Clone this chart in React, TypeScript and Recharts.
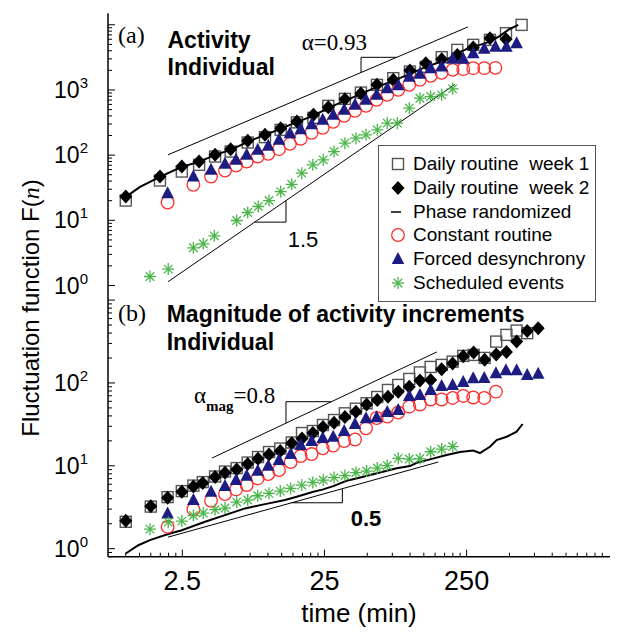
import React from 'react';
import { ComposedChart, Scatter, XAxis, YAxis, ReferenceLine, Legend } from 'recharts';

const SANS = "'Liberation Sans', Arial, Helvetica, sans-serif";
const SERIF = "'Liberation Serif', 'Times New Roman', Times, serif";

// ---------- axes ----------
const X_DOMAIN: [number, number] = [0.75, 2550];
const TOP_Y_DOMAIN: [number, number] = [1, 15000];
const BOT_Y_DOMAIN: [number, number] = [0.8, 1500];

const xTicks = [1, 1.25, 1.5, 1.75, 2, 2.25, 2.5, 5, 7.5, 10, 12.5, 15, 17.5, 20, 22.5, 25, 50, 75, 100, 125, 150, 175, 200, 225, 250, 500, 750, 1000, 1250, 1500, 1750, 2000, 2250];
const xMajor = [2.5, 25, 250, 2500];
const xLabels = [2.5, 25, 250];

const topYTicks = [1, 2, 3, 4, 5, 6, 7, 8, 9, 10, 20, 30, 40, 50, 60, 70, 80, 90, 100, 200, 300, 400, 500, 600, 700, 800, 900, 1000, 2000, 3000, 4000, 5000, 6000, 7000, 8000, 9000, 10000];
const botYTicks = [0.8, 0.9, 1, 2, 3, 4, 5, 6, 7, 8, 9, 10, 20, 30, 40, 50, 60, 70, 80, 90, 100, 200, 300, 400, 500, 600, 700, 800, 900, 1000];
const yMajor = [1, 10, 100, 1000, 10000];
const topYLabels = [1, 10, 100, 1000];
const botYLabels = [1, 10, 100];

// ---------- panel (a): activity ----------
const topXDaily = [1, 1.74, 2.48, 3.28, 4.25, 5.47, 7.21, 9.54, 12.3, 16, 20.9, 26.6, 34.8, 45.1, 58.5, 76.2, 99.8, 129, 167, 215, 278, 365, 473, 609];
const topWeek1 = [20.1, 40.8, 56.0, 71.0, 95.2, 113.5, 156, 188.8, 244, 318, 373, 570, 730, 912, 1197, 1517, 1915, 2261, 3186, 4121, 4920, 5866, 7430, 9960];
const topWeek2 = [23.2, 47.0, 66.9, 79.8, 101, 123.6, 165.7, 204.9, 259.5, 327.5, 415, 545, 722, 880, 1197, 1429, 1985, 2577, 2966, 3453, 4500, 6230, 6013];

const topXFine = [1.97, 2.99, 3.98, 4.99, 5.97, 7.09, 8.48, 10.06, 11.97, 14.3, 17.0, 20.3, 24.3, 28.8, 34.4, 41.0, 49.0, 58.2, 69.1, 82.6, 98.7, 117.3, 139.6, 166.8, 199.3, 236.6, 278.2, 332.5, 398.6, 476.3, 561.9];
const topForced = [26.1, 47.0, 59.5, 73.6, 84.7, 101, 120.6, 138.9, 171.7, 217.4, 250.5, 296.8, 347.7, 415, 495.4, 590.5, 704.7, 840.8, 1066, 1177, 1588, 1766, 2160, 2285, 2999, 2999, 3667, 4270, 4584, 4584, 5223];
const topConstant = [18.75, 35.0, 47.0, 58.0, 69.3, 79.8, 95.2, 104.7, 123.6, 149, 177.8, 219.8, 262.3, 324.2, 400.8, 478, 570, 704.7, 840.8, 1004, 1197, 1429, 1645, 1829, 2033, 2084, 2160, 2160, 2183];

const topXSched = [1.48, 1.99, 2.99, 3.51, 4.20, 6.03, 7.21, 8.56, 10.18, 12.3, 14.7, 17.3, 20.7, 24.5, 29.2, 34.8, 41.6, 49.0, 58.8, 69.1, 81.3, 98.7, 117.3, 139.6, 166.8, 199.3];
const topSched = [1.374, 1.784, 3.79, 4.36, 5.78, 9.93, 13.17, 16.29, 20.1, 27.6, 35.7, 52.9, 71.0, 84.7, 113.5, 152.8, 182.3, 204.9, 244.3, 309.7, 309.7, 526, 748, 792, 840.8, 1040];

const topXPhase = [1.0, 1.26, 1.74, 2.48, 3.28, 4.25, 5.47, 7.21, 9.54, 12.3, 16.0, 20.9, 26.6, 34.8, 45.1, 58.5, 76.2, 99.8, 129, 167, 191, 215, 243, 271, 310, 365, 429, 490, 577];
const topPhase = [22.9, 32.6, 46.5, 66.2, 78.9, 101, 120.6, 160, 204.9, 253, 324, 400.8, 531, 680, 871, 1116, 1379, 1766, 2261, 2727, 3106, 3667, 4121, 4633, 4920, 5524, 6758, 8350, 9960];

// ---------- panel (b): magnitude of increments ----------
const botXDaily = [1.0, 1.5, 1.97, 2.48, 2.99, 3.48, 4.25, 4.99, 6.03, 7.21, 8.52, 10.18, 12.22, 14.7, 17.37, 20.7, 24.4, 29.2, 34.8, 41.6, 49.5, 58.8, 69.9, 82.6, 98.7, 117.3, 139.6, 166.8, 199.3, 236.6, 280, 334.6, 403.7, 476.3, 561.9, 667, 797];
const botWeek1 = [2.11, 3.22, 4.19, 4.95, 5.77, 6.36, 7.42, 8.52, 9.39, 10.95, 12.76, 14.66, 16.16, 19.1, 24.87, 26.3, 31.1, 35.7, 43.0, 48.9, 56.9, 67.7, 82.3, 94.6, 111.8, 134, 156.1, 165.1, 180.9, 212, 218, 200.5, 315.6, 380.2, 428.6, 398.7];
const botWeek2 = [2.17, 3.26, 4.13, 4.86, 5.61, 6.19, 7.31, 8.24, 9.01, 10.5, 12.17, 13.68, 15.08, 18.67, 21.35, 24.87, 29.4, 33.1, 38.8, 45.0, 55.0, 62.3, 68.3, 78.5, 90.2, 107.2, 108.7, 146.4, 172, 210.2, 232.3, 191.2, 221, 237, 315.6, 425, 458];

const botXFine = [1.97, 2.99, 3.98, 4.99, 5.97, 7.09, 8.48, 10.06, 11.97, 14.46, 17.0, 20.3, 24.3, 28.8, 34.4, 41.0, 49.0, 58.2, 69.1, 82.6, 98.7, 117.3, 139.6, 166.8, 199.3, 236.6, 278.2, 332.5, 401.9, 472.5, 561.9, 667, 797];
const botForced = [2.66, 3.86, 4.86, 5.69, 6.73, 7.58, 8.71, 10.01, 11.74, 13.87, 17.81, 19.91, 21.64, 22.44, 26.3, 31.96, 37.45, 38.5, 44.6, 47.2, 69.7, 71.6, 82.3, 92.0, 94.6, 102.8, 114, 114.9, 131, 142.4, 142.4, 125, 129.5];
const botConstant = [1.83, 2.98, 3.78, 4.56, 5.19, 5.85, 7.05, 7.95, 8.89, 11.1, 13.12, 13.87, 16.25, 17.57, 19.91, 20.76, 28.35, 37.76, 39.38, 44.0, 51.7, 55.0, 63.2, 63.2, 65.9, 69.7, 66.8, 65.9, 78.5];

const botXSched = [1.48, 1.99, 2.48, 2.99, 3.51, 4.25, 4.99, 6.03, 7.21, 8.48, 10.18, 12.22, 14.46, 17.3, 20.7, 24.5, 29.2, 34.8, 41.6, 49.5, 58.8, 69.1, 82.6, 98.7, 117.3, 139.6, 166.8, 199.3];
const botSched = [1.72, 2.09, 2.15, 2.51, 2.69, 2.96, 3.09, 3.65, 3.86, 4.35, 4.65, 4.95, 5.34, 5.85, 6.31, 6.73, 7.21, 7.62, 8.29, 8.64, 9.39, 10.07, 12.3, 12.07, 12.24, 14.79, 15.94, 17.08];

const botXPhase = [1.0, 1.226, 1.48, 1.99, 2.48, 3.61, 4.99, 6.9, 9.54, 13.19, 15.94, 20.9, 24.5, 28.8, 35.8, 46.9, 61.4, 80.5, 99.8, 111.3, 138, 180.8, 224.4, 278.2, 310, 364.6, 406.4, 477.8, 561.9, 619];
const botPhase = [0.875, 1.1, 1.27, 1.5, 1.67, 2.11, 2.54, 3.06, 3.45, 3.86, 4.23, 4.86, 5.19, 5.69, 6.6, 7.37, 8.29, 9.32, 9.93, 10.89, 11.96, 13.49, 14.66, 15.29, 14.26, 16.99, 20.47, 22.44, 25.79, 31.96];

// ---------- slope guide lines (data coordinates) ----------
const topAlphaLine = [{ x: 1.98, y: 101 }, { x: 255, y: 9260 }];
const topAlphaBracketH = [{ x: 45.2, y: 3168 }, { x: 80.5, y: 3168 }];
const topAlphaBracketV = [{ x: 45.2, y: 3168 }, { x: 45.2, y: 1852 }];
const topSlope15Line = [{ x: 1.98, y: 1.14 }, { x: 206.6, y: 1214 }];
const topSlope15BracketH = [{ x: 8.07, y: 9.38 }, { x: 13.4, y: 9.38 }];
const topSlope15BracketV = [{ x: 13.4, y: 9.38 }, { x: 13.4, y: 20.1 }];
const botMagLine = [{ x: 4.045, y: 12.41 }, { x: 154.6, y: 237 }];
const botMagBracketH = [{ x: 13.4, y: 59.4 }, { x: 27.95, y: 59.4 }];
const botMagBracketV = [{ x: 13.4, y: 59.4 }, { x: 13.4, y: 32.7 }];
const botHalfLine = [{ x: 1.98, y: 1.377 }, { x: 157.8, y: 11.1 }];
const botHalfBracketH = [{ x: 14.7, y: 3.58 }, { x: 33.4, y: 3.58 }];
const botHalfBracketV = [{ x: 33.4, y: 3.58 }, { x: 33.4, y: 5.3 }];

const zip = (xs: number[], ys: number[]) => ys.map((y, i) => ({ x: xs[i], y }));

// ---------- colours ----------
const C_SQUARE = '#555555';
const C_DIAMOND = '#000000';
const C_CIRCLE = '#ff2b2b';
const C_TRI = '#1c1c82';
const C_STAR = '#48b548';

// ---------- marker shapes ----------
const SquareMark = ({ cx, cy }: any) => (
  <rect x={cx - 5.5} y={cy - 5.5} width={11} height={11} fill="none" stroke={C_SQUARE} strokeWidth={1.4} />
);
const DiamondMark = ({ cx, cy }: any) => (
  <polygon points={`${cx},${cy - 7} ${cx + 6.5},${cy} ${cx},${cy + 7} ${cx - 6.5},${cy}`} fill={C_DIAMOND} />
);
const CircleMark = ({ cx, cy }: any) => (
  <circle cx={cx} cy={cy} r={6.3} fill="none" stroke={C_CIRCLE} strokeWidth={1.3} />
);
const TriMark = ({ cx, cy }: any) => (
  <polygon points={`${cx},${cy - 7} ${cx + 6.3},${cy + 5} ${cx - 6.3},${cy + 5}`} fill={C_TRI} />
);
const StarMark = ({ cx, cy }: any) => {
  const r = 6;
  const d = r * 0.7071;
  return (
    <g stroke={C_STAR} strokeWidth={1.3}>
      <line x1={cx - r} y1={cy} x2={cx + r} y2={cy} />
      <line x1={cx} y1={cy - r} x2={cx} y2={cy + r} />
      <line x1={cx - d} y1={cy - d} x2={cx + d} y2={cy + d} />
      <line x1={cx - d} y1={cy + d} x2={cx + d} y2={cy - d} />
    </g>
  );
};
const NoMark = () => <g />;

// ---------- ticks ----------
const near = (v: number, arr: number[]) => arr.some((a) => Math.abs(v / a - 1) < 1e-6);

const makeTick = (side: 'left' | 'right' | 'top' | 'bottom', majors: number[], labels: number[], kind: 'pow' | 'plain' | null) =>
  (props: any) => {
    const { x, y, payload } = props;
    const v = payload.value;
    const major = near(v, majors);
    const len = major ? 7 : 4;
    let line: any;
    if (side === 'left') line = <line x1={x} y1={y} x2={x + len} y2={y} stroke="#000" strokeWidth={1} />;
    else if (side === 'right') line = <line x1={x} y1={y} x2={x - len} y2={y} stroke="#000" strokeWidth={1} />;
    else if (side === 'top') line = <line x1={x} y1={y} x2={x} y2={y + len} stroke="#000" strokeWidth={1} />;
    else line = <line x1={x} y1={y} x2={x} y2={y - len} stroke="#000" strokeWidth={1} />;
    let label: any = null;
    if (kind && near(v, labels)) {
      if (kind === 'pow') {
        const e = Math.round(Math.log10(v));
        label = (
          <text x={x - 20} y={y + 8} textAnchor="end" fontFamily={SANS} fontSize={23} fill="#000">
            10<tspan fontSize={15} dy={-10}>{e}</tspan>
          </text>
        );
      } else {
        label = (
          <text x={x} y={y + 33} textAnchor="middle" fontFamily={SANS} fontSize={27} fill="#000">{v}</text>
        );
      }
    }
    return <g>{line}{label}</g>;
  };

const AXIS_LINE = { stroke: '#000', strokeWidth: 1.5 };

// ---------- legend ----------
const legendItems = [
  { label: 'Daily routine  week 1', mark: 'square' },
  { label: 'Daily routine  week 2', mark: 'diamond' },
  { label: 'Phase randomized', mark: 'line' },
  { label: 'Constant routine', mark: 'circle' },
  { label: 'Forced desynchrony', mark: 'tri' },
  { label: 'Scheduled events', mark: 'star' },
];

const LegendMark = ({ mark }: { mark: string }) => {
  const cx = 19;
  const cy = 12;
  if (mark === 'square') return <SquareMark cx={cx} cy={cy} />;
  if (mark === 'diamond') return <DiamondMark cx={cx} cy={cy} />;
  if (mark === 'circle') return <CircleMark cx={cx} cy={cy} />;
  if (mark === 'tri') return <TriMark cx={cx} cy={cy} />;
  if (mark === 'star') return <StarMark cx={cx} cy={cy} />;
  return <line x1={12} y1={cy} x2={22} y2={cy} stroke="#000" strokeWidth={1.5} />;
};

const LegendBox = () => (
  <div style={{ width: 218, height: 157, border: '1px solid #555', background: '#fff', boxSizing: 'border-box', position: 'relative' }}>
    {legendItems.map((it, i) => (
      <div key={i} style={{ position: 'absolute', left: 0, top: 6 + i * 23.8, height: 24, display: 'flex', alignItems: 'center' }}>
        <svg width={34} height={24} style={{ display: 'block' }}>
          <LegendMark mark={it.mark} />
        </svg>
        <span style={{ fontFamily: SANS, fontSize: 19, whiteSpace: 'pre', color: '#000', lineHeight: '24px' }}>{it.label}</span>
      </div>
    ))}
  </div>
);

const seg = (pts: { x: number; y: number }[], key: string) => (
  <ReferenceLine key={key} xAxisId="b" yAxisId="l" segment={pts as any} stroke="#000" strokeWidth={1} ifOverflow="visible" />
);

export default function App() {
  return (
    <div style={{ position: 'absolute', left: 0, top: 0, width: 621, height: 637, background: '#fff' }}>
      {/* Panel (a) */}
      <div style={{ position: 'absolute', left: 0, top: 0 }}>
        <ComposedChart width={621} height={305} margin={{ top: 13.3, right: 11, bottom: 19.5, left: 0 }}>
          <XAxis xAxisId="b" dataKey="x" type="number" scale="log" domain={X_DOMAIN} allowDataOverflow ticks={xTicks} interval={0}
            orientation="bottom" height={0} tickSize={0} tickMargin={0} tickLine={false} axisLine={AXIS_LINE}
            tick={makeTick('bottom', xMajor, [], null)} />
          <XAxis xAxisId="t" dataKey="x" type="number" scale="log" domain={X_DOMAIN} allowDataOverflow ticks={xTicks} interval={0}
            orientation="top" height={0} tickSize={0} tickMargin={0} tickLine={false} axisLine={AXIS_LINE}
            tick={makeTick('top', xMajor, [], null)} />
          <YAxis yAxisId="l" dataKey="y" type="number" scale="log" domain={TOP_Y_DOMAIN} allowDataOverflow ticks={topYTicks} interval={0}
            orientation="left" width={108} tickSize={0} tickMargin={0} tickLine={false} axisLine={AXIS_LINE}
            tick={makeTick('left', yMajor, topYLabels, 'pow')} />
          <YAxis yAxisId="r" dataKey="y" type="number" scale="log" domain={TOP_Y_DOMAIN} allowDataOverflow ticks={topYTicks} interval={0}
            orientation="right" width={0} tickSize={0} tickMargin={0} tickLine={false} axisLine={AXIS_LINE}
            tick={makeTick('right', yMajor, [], null)} />

          {seg(topAlphaLine, 'a1')}
          {seg(topAlphaBracketH, 'a2')}
          {seg(topAlphaBracketV, 'a3')}
          {seg(topSlope15Line, 'a4')}
          {seg(topSlope15BracketH, 'a5')}
          {seg(topSlope15BracketV, 'a6')}

          <Scatter name="Daily routine week 1" xAxisId="b" yAxisId="l" data={zip(topXDaily, topWeek1)} shape={SquareMark} isAnimationActive={false} />
          <Scatter name="Daily routine week 2" xAxisId="b" yAxisId="l" data={zip(topXDaily, topWeek2)} shape={DiamondMark} isAnimationActive={false} />
          <Scatter name="Phase randomized" xAxisId="b" yAxisId="l" data={zip(topXPhase, topPhase)} shape={NoMark}
            line={{ stroke: '#000', strokeWidth: 2 }} lineType="joint" isAnimationActive={false} />
          <Scatter name="Constant routine" xAxisId="b" yAxisId="l" data={zip(topXFine, topConstant)} shape={CircleMark} isAnimationActive={false} />
          <Scatter name="Forced desynchrony" xAxisId="b" yAxisId="l" data={zip(topXFine, topForced)} shape={TriMark} isAnimationActive={false} />
          <Scatter name="Scheduled events" xAxisId="b" yAxisId="l" data={zip(topXSched, topSched)} shape={StarMark} isAnimationActive={false} />
        </ComposedChart>
      </div>

      {/* Panel (b) */}
      <div style={{ position: 'absolute', left: 0, top: 0 }}>
        <ComposedChart width={621} height={637} margin={{ top: 285.5, right: 11, bottom: 0, left: 0 }}>
          <XAxis xAxisId="b" dataKey="x" type="number" scale="log" domain={X_DOMAIN} allowDataOverflow ticks={xTicks} interval={0}
            orientation="bottom" height={80.3} tickSize={0} tickMargin={0} tickLine={false} axisLine={AXIS_LINE}
            tick={makeTick('bottom', xMajor, xLabels, 'plain')} />
          <YAxis yAxisId="l" dataKey="y" type="number" scale="log" domain={BOT_Y_DOMAIN} allowDataOverflow ticks={botYTicks} interval={0}
            orientation="left" width={108} tickSize={0} tickMargin={0} tickLine={false} axisLine={AXIS_LINE}
            tick={makeTick('left', yMajor, botYLabels, 'pow')} />
          <YAxis yAxisId="r" dataKey="y" type="number" scale="log" domain={BOT_Y_DOMAIN} allowDataOverflow ticks={botYTicks} interval={0}
            orientation="right" width={0} tickSize={0} tickMargin={0} tickLine={false} axisLine={AXIS_LINE}
            tick={makeTick('right', yMajor, [], null)} />

          {seg(botMagLine, 'b1')}
          {seg(botMagBracketH, 'b2')}
          {seg(botMagBracketV, 'b3')}
          {seg(botHalfLine, 'b4')}
          {seg(botHalfBracketH, 'b5')}
          {seg(botHalfBracketV, 'b6')}

          <Scatter name="Daily routine week 1" xAxisId="b" yAxisId="l" data={zip(botXDaily, botWeek1)} shape={SquareMark} isAnimationActive={false} />
          <Scatter name="Daily routine week 2" xAxisId="b" yAxisId="l" data={zip(botXDaily, botWeek2)} shape={DiamondMark} isAnimationActive={false} />
          <Scatter name="Phase randomized" xAxisId="b" yAxisId="l" data={zip(botXPhase, botPhase)} shape={NoMark}
            line={{ stroke: '#000', strokeWidth: 2 }} lineType="joint" isAnimationActive={false} />
          <Scatter name="Constant routine" xAxisId="b" yAxisId="l" data={zip(botXFine, botConstant)} shape={CircleMark} isAnimationActive={false} />
          <Scatter name="Forced desynchrony" xAxisId="b" yAxisId="l" data={zip(botXFine, botForced)} shape={TriMark} isAnimationActive={false} />
          <Scatter name="Scheduled events" xAxisId="b" yAxisId="l" data={zip(botXSched, botSched)} shape={StarMark} isAnimationActive={false} />

          <Legend layout="horizontal" verticalAlign="middle" align="center" content={() => <LegendBox />}
            wrapperStyle={{ position: 'absolute', left: 378, top: 145, width: 218, height: 157, margin: 0, padding: 0 }} />
        </ComposedChart>
      </div>

      {/* text annotations */}
      <svg width={621} height={637} style={{ position: 'absolute', left: 0, top: 0, pointerEvents: 'none' }}>
        <text transform="translate(39,308) rotate(-90)" textAnchor="middle" fontFamily={SANS} fontSize={24} fill="#000">
          Fluctuation function F(<tspan fontFamily={SERIF} fontStyle="italic">n</tspan>)
        </text>
        <text x={118} y={42.5} fontFamily={SERIF} fontSize={24} fill="#000">(a)</text>
        <text x={167.5} y={47.7} fontFamily={SANS} fontWeight="bold" fontSize={23} fill="#000">Activity</text>
        <text x={167.5} y={75} fontFamily={SANS} fontWeight="bold" fontSize={23} fill="#000">Individual</text>
        <text x={301.7} y={50} fontFamily={SERIF} fontSize={23} fill="#000">α=0.93</text>
        <text x={287.7} y={246.5} fontFamily={SANS} fontSize={22} fill="#000">1.5</text>

        <text x={118} y={320.5} fontFamily={SERIF} fontSize={24} fill="#000">(b)</text>
        <text x={166.7} y={321.5} fontFamily={SANS} fontWeight="bold" fontSize={23} fill="#000">Magnitude of activity increments</text>
        <text x={166.7} y={350} fontFamily={SANS} fontWeight="bold" fontSize={23} fill="#000">Individual</text>
        <text x={194} y={403} fontFamily={SERIF} fontSize={23} fill="#000">
          α<tspan fontSize={15} fontWeight="bold" dy={8}>mag</tspan><tspan dy={-8}>=0.8</tspan>
        </text>
        <text x={350.7} y={526} fontFamily={SANS} fontWeight="bold" fontSize={22} fill="#000">0.5</text>

        <text x={359} y={622} textAnchor="middle" fontFamily={SANS} fontSize={26} fill="#000">time (min)</text>
      </svg>
    </div>
  );
}
